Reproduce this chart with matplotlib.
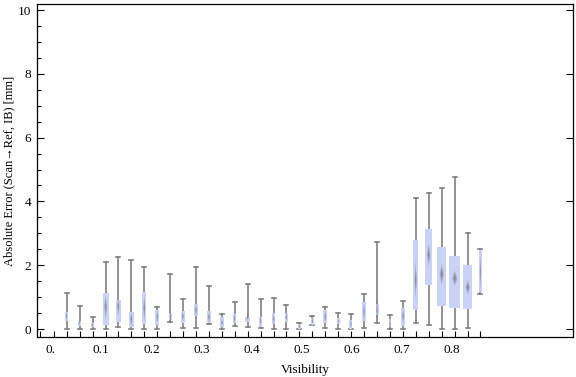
import matplotlib
matplotlib.use("Agg")
import matplotlib.pyplot as plt
from matplotlib.patches import Rectangle, Polygon
from matplotlib.ticker import FixedLocator

plt.rcParams['font.family'] = ['Liberation Serif', 'DejaVu Serif']

# visibility bins (box centres)
visibility = [0.031, 0.057, 0.083, 0.109, 0.134, 0.160, 0.186, 0.212, 0.238, 0.263,
              0.289, 0.315, 0.341, 0.366, 0.392, 0.418, 0.444, 0.469, 0.495, 0.521,
              0.547, 0.573, 0.598, 0.624, 0.650, 0.676, 0.702, 0.727, 0.753, 0.779,
              0.805, 0.831, 0.856]
whisk_lo = [0.00, 0.00, 0.01, 0.00, 0.06, 0.00, 0.00, 0.00, 0.23, 0.02,
            0.02, 0.15, 0.00, 0.09, 0.06, 0.02, 0.00, 0.00, 0.00, 0.12,
            0.02, 0.00, 0.00, 0.02, 0.20, 0.00, 0.00, 0.18, 0.12, 0.00,
            0.00, 0.02, 1.10]
q1 = [0.26, 0.10, 0.05, 0.12, 0.23, 0.05, 0.15, 0.13, 0.28, 0.20,
      0.42, 0.18, 0.05, 0.18, 0.23, 0.07, 0.15, 0.23, 0.00, 0.13,
      0.20, 0.16, 0.01, 0.26, 0.44, 0.05, 0.10, 0.61, 1.38, 0.73,
      0.67, 0.63, 1.17]
median = [0.41, 0.20, 0.12, 0.70, 0.70, 0.30, 0.65, 0.39, 0.38, 0.40,
          0.60, 0.38, 0.20, 0.33, 0.38, 0.25, 0.32, 0.37, 0.08, 0.25,
          0.39, 0.25, 0.15, 0.55, 0.60, 0.15, 0.41, 1.54, 2.32, 1.72,
          1.59, 1.31, 1.80]
q3 = [0.54, 0.26, 0.20, 1.12, 0.91, 0.52, 1.17, 0.59, 0.49, 0.56,
      0.77, 0.56, 0.37, 0.47, 0.39, 0.39, 0.49, 0.51, 0.16, 0.35,
      0.60, 0.35, 0.28, 0.84, 0.78, 0.30, 0.65, 2.79, 3.13, 2.57,
      2.29, 2.01, 2.48]
whisk_hi = [1.12, 0.72, 0.37, 2.09, 2.27, 2.17, 1.95, 0.68, 1.71, 0.94,
            1.93, 1.34, 0.47, 0.84, 1.40, 0.93, 0.96, 0.74, 0.20, 0.40,
            0.68, 0.49, 0.46, 1.09, 2.72, 0.44, 0.89, 4.10, 4.25, 4.41,
            4.76, 3.00, 2.50]
notch = [0.15, 0.10, 0.08, 0.40, 0.30, 0.25, 0.45, 0.20, 0.30, 0.15,
         0.20, 0.18, 0.12, 0.15, 0.15, 0.15, 0.18, 0.15, 0.08, 0.10,
         0.20, 0.10, 0.12, 0.30, 0.45, 0.20, 0.25, 0.63, 0.37, 0.34,
         0.26, 0.24, 0.60]
# relative sample weight -> box width
weight = [3.3, 2.7, 3.0, 5.7, 5.0, 4.7, 4.0, 4.0, 3.3, 4.0,
          4.0, 4.0, 4.0, 3.7, 4.3, 3.0, 3.3, 3.3, 3.0, 3.0,
          4.0, 3.0, 3.0, 3.3, 3.0, 2.7, 3.7, 4.7, 7.0, 9.0,
          11.0, 9.0, 2.7]

x_labels = ['0.', '0.1', '0.2', '0.3', '0.4', '0.5', '0.6', '0.7', '0.8']

fig = plt.figure(figsize=(5.76, 3.77), dpi=100)
ax = fig.add_axes([37/576, 40/377, 536/576, 333/377])

px = 1/501.6  # one pixel in visibility units
box_col = '#cad2f5'
gray = '#808080'

for i, v in enumerate(visibility):
    w = weight[i] * px
    ax.add_patch(Rectangle((v - w/2, q1[i]), w, q3[i] - q1[i],
                           facecolor=box_col, edgecolor='none', zorder=2))
    ax.plot([v, v], [whisk_lo[i], q1[i]], color=gray, lw=1.2, zorder=1)
    ax.plot([v, v], [q3[i], whisk_hi[i]], color=gray, lw=1.2, zorder=1)
    cw = 4 * px
    for yy in (whisk_lo[i], whisk_hi[i]):
        ax.plot([v - cw/2, v + cw/2], [yy, yy], color=gray, lw=1.2, zorder=1)
    # notch diamond, drawn as nested shapes for a soft look
    hw = 0.25 * w
    for s in (1.0, 0.8, 0.6, 0.4, 0.2):
        h = notch[i] * s
        d = hw * s
        ax.add_patch(Polygon([(v, median[i] + h), (v + d, median[i]),
                              (v, median[i] - h), (v - d, median[i])],
                             closed=True, facecolor='#6e6e6e', edgecolor='none',
                             alpha=0.22, zorder=3))

ax.set_xlim(-0.0279, 1.0407)
ax.set_ylim(-0.25, 10.19)

step = visibility[1] - visibility[0]
minor_x = [visibility[0] - 2*step, visibility[0] - step] + visibility
ax.xaxis.set_major_locator(FixedLocator([k/10 for k in range(9)]))
ax.set_xticklabels(x_labels)
ax.xaxis.set_minor_locator(FixedLocator(minor_x))
ax.tick_params(axis='x', which='major', length=0, pad=5, labelsize=9.5)
ax.tick_params(axis='x', which='minor', direction='in', length=4, width=0.8)

ax.set_yticks([0, 2, 4, 6, 8, 10])
ax.yaxis.set_minor_locator(FixedLocator([k*0.5 for k in range(21)]))
ax.tick_params(axis='y', which='major', direction='in', length=5, width=0.8,
               labelsize=9.5, pad=4, right=True)
ax.tick_params(axis='y', which='minor', direction='in', length=3, width=0.8)

for sp in ax.spines.values():
    sp.set_linewidth(0.9)

ax.set_xlabel('Visibility', fontsize=9.5, labelpad=6)
ax.set_ylabel('Absolute Error (Scan\u2192Ref, IB) [mm]', fontsize=9, labelpad=2)

fig.savefig('out.png', dpi=100)
